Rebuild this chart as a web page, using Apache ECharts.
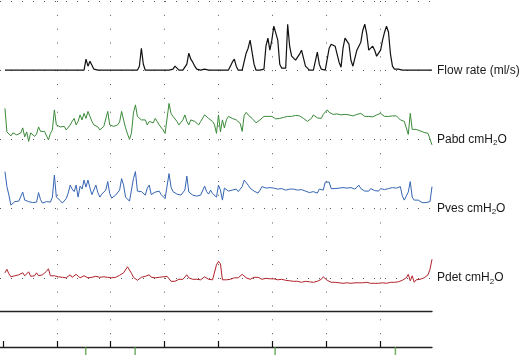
<!DOCTYPE html>
<html>
<head>
<meta charset="utf-8">
<title>Pressure flow trace</title>
<script src="https://cdn.jsdelivr.net/npm/echarts@6.0.0/dist/echarts.min.js"></script>
<style>
html, body { margin: 0; padding: 0; background: #fff; }
#trace { width: 521px; height: 355px; }
</style>
</head>
<body>
<div id="trace"></div>
<script>
// one sample every 2 s, first one at t = 5 s
var t0 = 5;
var dt = 2;
var tEnd = 437;

// flow rate, ml/s
var flow = [
    0, 0, 0, 0, 0, 0, 0, 0, 0, 0,
    0, 0, 0, 0, 0, 0, 0, 0, 0, 0,
    0, 0, 0, 0, 0, 0, 0, 0, 0, 0,
    0, 0, 0, 0, 0, 0, 0, 0, 0, 0,
    0, 5.5, 2, 4.5, 5, 0.5, 0, 0, 0, 0,
    0, 0, 0, 0, 0, 0, 0, 0, 0, 0,
    0, 0, 0, 0, 0, 0, 0, 0, 2, 11,
    3, 0, 0, 0, 0, 0, 0, 0, 0, 0,
    0, 0, 0, 0, 0, 0.5, 2, 1, 0, 0,
    0, 0, 3, 8.5, 5.5, 4, 2, 0.5, 0, 0,
    0, 0.5, 1.5, 0, 0, 0, 0.5, 0, 0, 0,
    0, 0, 0, 0, 1, 4, 5.5, 2, 0, 0,
    0, 0, 8.5, 11, 15, 9, 3, 0, 0, 0,
    0, 0.5, 12, 16, 10, 15, 22, 23, 15, 3,
    1, 0, 1, 23, 12, 7, 7, 5, 4, 8,
    10, 6, 2, 1, 0, 0, 0, 0, 9, 3,
    0.5, 0, 0, 0, 11, 13, 14, 12, 8, 4,
    1.5, 11, 16, 17, 13, 5, 2, 6, 10, 11,
    14, 20, 23, 18, 10, 9, 12, 10, 7, 8,
    10, 15, 19, 22, 19, 8, 2, 0.5, 1.5, 0.5,
    0, 0, 0, 0, 0, 0, 0, 0, 0, 0,
    0, 0, 0, 0, 0, 0, 0
];

// abdominal pressure, cmH2O
var pabd = [
    31, 7.5, 5.5, 3.5, 6.5, 7.5, 4.5, 5.5, 6.5, 11.5,
    2.5, 7.5, -2, 6.5, 7.5, 3, 5.5, 12.5, 8, 9.5,
    8, 6.5, -0.5, 6, 9.5, 29.5, 14.5, 16, 12.5, 11,
    13, 9.5, 11, 14.5, 18, 21, 14.5, 18, 24.5, 19.5,
    26, 21, 28, 23, 18, 14.5, 13, 12.5, 9.5, 11,
    13, 14.5, 28, 14.5, 12.5, 13, 12.5, 14.5, 17.5, 28,
    19.5, 11.5, 5.5, 0, 6.5, 26.5, 34.5, 23, 21, 19.5,
    21.5, 19.5, 14.5, 18, 19.5, 16.5, 21, 18, 14.5, 12.5,
    9.5, 6, 4.5, 36, 26, 23, 21, 18, 14.5, 13,
    19.5, 24.5, 18, 14.5, 19.5, 21, 18, 16, 14.5, 18,
    19.5, 24.5, 26, 21, 19.5, 18, 14.5, 6, 24.5, 7.5,
    19.5, 11.5, 19.5, 23, 22, 21, 22, 19.5, 18, 16,
    8, 24, 27, 24.5, 23, 21, 19, 16.5, 16, 19.5,
    21, 23, 22.5, 23, 24.5, 23, 21, 20.5, 20.5, 21,
    19.5, 22, 23.5, 23, 23.5, 23, 22, 24, 24.5, 23.5,
    22, 21, 19.5, 18, 19.5, 21, 24.5, 24, 21.5, 23,
    21, 25, 27, 29.5, 27, 28, 25, 25.5, 25.5, 26,
    24.5, 26, 25, 26, 24.5, 23, 23.5, 24, 25, 24.5,
    26, 24.5, 23, 24.5, 23, 23.5, 22.5, 23, 24.5, 23.5,
    26, 24.5, 23, 22.5, 23, 24.5, 23.5, 23, 23.5, 22.5,
    19.5, 19.5, 18, 16, 5, 26, 10, 12, 10, 8,
    8.5, 7, 7, 6.5, 6, 4.5, -5.5
];

// vesical pressure, cmH2O
var pves = [
    37, 22, 13.5, 3.5, 5.5, 7, 6, 7.5, 8, 16.5,
    8.5, 7, 7, 6.5, 6, 7, 6.5, 16, 9, 5.5,
    6, 7, 5.5, 6.5, 11.5, 33.5, 11.5, 9.5, 8, 5.5,
    7, 10, 15.5, 23.5, 19.5, 17, 23.5, 11.5, 22.5, 19.5,
    28.5, 21.5, 28.5, 20.5, 14, 15, 23.5, 16, 11.5, 14.5,
    13.5, 18.5, 27, 15, 10.5, 12, 13.5, 12.5, 18.5, 30,
    23.5, 11.5, 9.5, 7.5, 9.5, 30, 37, 17.5, 16.5, 17,
    15, 13.5, 20.5, 23.5, 14, 15, 16.5, 15.5, 17.5, 14,
    12, 10, 11.5, 35, 21.5, 17, 18.5, 14.5, 16.5, 13.5,
    12, 18.5, 32.5, 16.5, 15, 13.5, 13, 12.5, 12, 13.5,
    15, 22.5, 17, 14.5, 18.5, 15, 16.5, 11.5, 23.5, 18.5,
    8.5, 20.5, 20.5, 17.5, 17.5, 18.5, 19.5, 19.5, 17, 18.5,
    22, 28.5, 29.5, 23.5, 20.5, 18.5, 17.5, 16.5, 15.5, 18.5,
    22, 20.5, 20.5, 21.5, 21, 20, 20.5, 21, 19.5, 19.5,
    20, 19, 18.5, 19, 19.5, 20, 19.5, 19, 18.5, 19,
    19, 18, 17.5, 17, 16, 15, 17, 17.5, 15.5, 19.5,
    20.5, 18.5, 26.5, 28.5, 26.5, 20, 21.5, 20, 21, 20.5,
    20, 21, 21.5, 20.5, 20.5, 21, 20, 19.5, 21.5, 23.5,
    20, 19, 17.5, 16, 17.5, 20, 19, 18, 17, 17.5,
    20, 19, 19, 20, 20, 19, 21, 21.5, 20.5, 18.5,
    22, 12.5, 8.5, 10.5, 16.5, 27, 11.5, 8.5, 8.5, 8.5,
    7, 6, 7, 6, 8, 7, 22
];

// detrusor pressure, cmH2O
var pdet = [
    5, 8.5, 4, 1, 3, 2, 1, 3, 3, 5,
    2, 3.5, 6, 1.5, 0.5, 2, 5, 2, 1.5, 3,
    5, 6.5, 9, 2, 3, 2, 0.5, 1, 1, 0.5,
    2, 0, 0.5, 3, 0.5, 0, 3.5, 1.5, 0, 0.5,
    2, 0, 0, 0.5, 0.5, 0, 1.5, 0.5, 0.5, 0,
    1, 0.5, 0.5, 2, 0, 1, 0.5, 0, 2.5, 4,
    5, 7, 11, 11.5, 4.5, 0.5, 1, -2.5, -0.5, 0.5,
    1, 1.5, 3.5, 3, 0.5, 1, 0, 0.5, 0.5, 0.5,
    1, 0, 1.5, 3.5, -3.5, -3, -3.5, -2.5, -1.5, -2,
    -1.5, 0.5, 3, 0, -2, -1.5, -2, -1.5, -1.5, -2,
    0, 1, 2.5, -1.5, -1.5, -2, 0, 13, 16.5, 14,
    -2, -1.5, -2, -1.5, -1.5, -0.5, 0, 0, 0, 0.5,
    3.5, 1.5, 0, -1.5, -1.5, 0, 0.5, 0, 0.5, 0,
    -1.5, -0.5, -0.5, -1.5, -1, 0, -1, -1.5, -2, -2,
    -1.5, -2.5, -2.5, -2.5, -3, -3.5, -3.5, -3, -3.5, -4.5,
    -4.5, -4, -3.5, -4.5, -4, -3.5, -4.5, -4.5, -3.5, -2,
    -1.5, 1, -0.5, -2.5, -3.5, -4.5, -4.5, -4.5, -5.5, -5,
    -4.5, -5.5, -5.5, -5, -5, -5.5, -5, -5, -5.5, -5,
    -4.5, -5, -5, -4.5, -5, -5.5, -5.5, -5.5, -5, -5.5,
    -5.5, -5, -5, -5.5, -5, -4.5, -4.5, -4.5, -3.5, -4,
    -4, -2.5, -2, 0, 3.5, -3, 2, -4.5, -2, -1,
    -1.5, 0.5, 0, 1, 3, 8.5, 18.5
];

// event marks under the time axis (s)
var events = [86.7, 136.7, 278.3, 400];

var channelNames = ['Flow rate (ml/s)', 'Pabd cmH2O', 'Pves cmH2O', 'Pdet cmH2O'];
var channelColors = ['#111111', '#3b8a3a', '#3565b3', '#b1222b'];

var majorStep = 55;          // seconds between dotted verticals
var lastMajor = 385;
var rowPx = 346 / 25;        // one dot step of the verticals
var dotColor = '#5a5a5a';
var fontFamily = 'Liberation Sans, Arial, sans-serif';

function toPairs(values){
    var res = [];
    for (var i = 0; i < values.length; i++) {
        res.push([t0 + i * dt, values[i]]);
    }
    return res;
}

function labelText(name){
    // cmH2O gets a real subscript
    var m = name.match(/^(.*cmH)2(O)$/);
    if (m) return '{t|' + m[1] + '}{s|2}{t|' + m[2] + '}';
    return '{t|' + name + '}';
}

function showTrace(id){
    var dom = document.getElementById(id);
    var myChart = echarts.init(dom, null, {renderer: 'canvas'});
    var option = null;

    var grid = [
        {left: -5, right: 89, top: 1, height: 346},                 // dotted rows + time axis
        {left: -5, width: lastMajor, top: 1, height: 346}           // dotted verticals + ticks
    ];
    var xAxis = [
        {
            gridIndex: 0, type: 'value', min: 0, max: tEnd,
            axisLine: {show: true, onZero: false, lineStyle: {color: '#222', width: 1.3}},
            axisTick: {show: false}, axisLabel: {show: false}, splitLine: {show: false}
        },
        {
            gridIndex: 1, type: 'value', min: 0, max: lastMajor, interval: majorStep,
            axisLine: {show: true, onZero: false, lineStyle: {color: 'rgba(0,0,0,0)'}},
            axisTick: {show: true, inside: true, length: 6, lineStyle: {color: '#111', width: 1.2}},
            // ticks only get drawn with labels on, so keep them empty
            axisLabel: {show: true, formatter: function(){ return ''; }},
            splitLine: {show: true, showMinLine: false, lineStyle: {color: dotColor, width: 1, type: [1, rowPx - 1]}}
        }
    ];
    var yAxis = [
        {
            gridIndex: 0, type: 'value', min: 0, max: 25, interval: 5,
            axisLine: {show: false}, axisTick: {show: false}, axisLabel: {show: false},
            splitLine: {show: true, lineStyle: {color: dotColor, width: 1, type: [1, 10]}}
        },
        {gridIndex: 1, type: 'value', min: 0, max: 1, show: false}
    ];
    var series = [];

    for (var k = 0; k < 4; k++) {
        grid.push({left: -5, right: 89, top: 1 + k * 5 * rowPx, height: 5 * rowPx});
        xAxis.push({gridIndex: k + 2, type: 'value', min: 0, max: tEnd, show: false});
        yAxis.push({
            gridIndex: k + 2, type: 'value', min: 0,
            max: k == 0 ? 5 * rowPx / 2 : 5 * rowPx,   // flow 2 px per ml/s, pressures 1 px per cmH2O
            show: false
        });
    }
    var values = [flow, pabd, pves, pdet];
    for (var k = 0; k < 4; k++) {
        series.push({
            name: channelNames[k],
            type: 'line',
            xAxisIndex: k + 2,
            yAxisIndex: k + 2,
            data: toPairs(values[k]),
            showSymbol: false,
            symbol: 'none',
            clip: false,
            lineStyle: {color: channelColors[k], width: k == 0 ? 1.2 : 1}
        });
    }

    // unused channel, drawn flat
    grid.push({left: -5, right: 89, top: 1 + 20 * rowPx, height: 311.7 - (1 + 20 * rowPx)});
    xAxis.push({
        gridIndex: 6, type: 'value', min: 0, max: tEnd,
        axisLine: {show: true, onZero: false, lineStyle: {color: '#222', width: 1.3}},
        axisTick: {show: false}, axisLabel: {show: false}, splitLine: {show: false}
    });
    yAxis.push({gridIndex: 6, type: 'value', min: 0, max: 1, show: false});

    // event marks hanging below the time axis
    grid.push({left: -5, right: 89, top: 347, height: 8});
    xAxis.push({gridIndex: 7, type: 'value', min: 0, max: tEnd, show: false});
    yAxis.push({gridIndex: 7, type: 'value', min: 0, max: 1, show: false});
    series.push({
        type: 'scatter',
        xAxisIndex: 7,
        yAxisIndex: 7,
        data: events.map(function(t){ return [t, 1]; }),
        symbol: 'rect',
        symbolSize: [1.5, 8],
        symbolOffset: [0, 4],
        itemStyle: {color: '#4f9a40'},
        silent: true
    });

    option = {
        backgroundColor: '#fff',
        animation: false,
        textStyle: {fontFamily: fontFamily},
        grid: grid,
        xAxis: xAxis,
        yAxis: yAxis,
        series: series
    };
    if (option && typeof option === "object") {
        myChart.setOption(option, true);
    }

    // channel names, placed at each channel's zero line just past the end of the trace
    var labels = [];
    for (var k = 0; k < 4; k++) {
        var p = myChart.convertToPixel({gridIndex: k + 2}, [tEnd, 0]);
        labels.push({
            type: 'text',
            x: p[0] + 5,
            y: p[1],
            silent: true,
            style: {
                text: labelText(channelNames[k]),
                verticalAlign: 'middle',
                align: 'left',
                fill: '#1a1a1a',
                font: '12px ' + fontFamily,
                rich: {
                    t: {fontSize: 12, lineHeight: 15, fill: '#1a1a1a', fontFamily: fontFamily},
                    s: {fontSize: 8, lineHeight: 9, verticalAlign: 'bottom', fill: '#1a1a1a', fontFamily: fontFamily}
                }
            }
        });
    }
    myChart.setOption({graphic: labels});
}

showTrace("trace");
</script>
</body>
</html>
